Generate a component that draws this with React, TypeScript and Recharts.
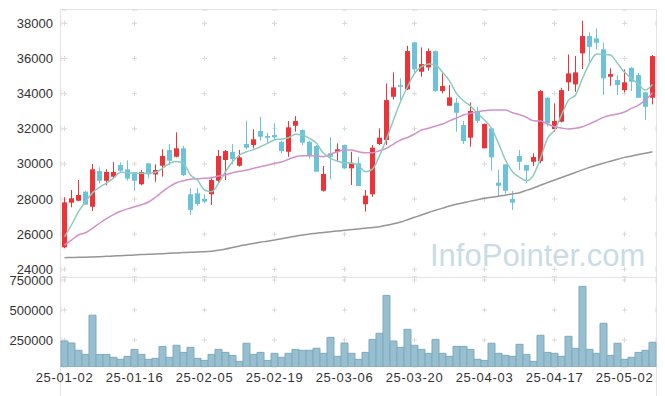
import React from "react";
import {
  ComposedChart, Bar, Line, XAxis, YAxis, CartesianGrid,
} from "recharts";

// trading days, 2025-01-02 .. 2025-05-12
const dates = [
  "25-01-02", "25-01-03", "25-01-06", "25-01-07", "25-01-08", "25-01-09", "25-01-10", "25-01-13", "25-01-14", "25-01-15",
  "25-01-16", "25-01-17", "25-01-20", "25-01-21", "25-01-22", "25-01-23", "25-01-24", "25-01-31", "25-02-03", "25-02-04",
  "25-02-05", "25-02-06", "25-02-07", "25-02-10", "25-02-11", "25-02-12", "25-02-13", "25-02-14", "25-02-17", "25-02-18",
  "25-02-19", "25-02-20", "25-02-21", "25-02-24", "25-02-25", "25-02-26", "25-02-27", "25-02-28", "25-03-04", "25-03-05",
  "25-03-06", "25-03-07", "25-03-10", "25-03-11", "25-03-12", "25-03-13", "25-03-14", "25-03-17", "25-03-18", "25-03-19",
  "25-03-20", "25-03-21", "25-03-24", "25-03-25", "25-03-26", "25-03-27", "25-03-28", "25-03-31", "25-04-01", "25-04-02",
  "25-04-03", "25-04-04", "25-04-07", "25-04-08", "25-04-09", "25-04-10", "25-04-11", "25-04-14", "25-04-15", "25-04-16",
  "25-04-17", "25-04-18", "25-04-21", "25-04-22", "25-04-23", "25-04-24", "25-04-25", "25-04-28", "25-04-29", "25-04-30",
  "25-05-02", "25-05-07", "25-05-08", "25-05-09", "25-05-12",
];

const opens = [
  25250, 27790, 27900, 28420, 27560, 29590, 29040, 29270, 29935, 29690,
  29520, 28840, 30030, 29400, 29895, 30790, 30405, 30885, 28270, 28325,
  28000, 28270, 29040, 30220, 30675, 29895, 31130, 31070, 31870, 31585,
  31640, 31260, 30690, 32170, 31925, 31260, 31015, 28470, 30600, 30675,
  31070, 29745, 30030, 27700, 28270, 31130, 31360, 33820, 34485, 34240,
  36915, 35245, 35495, 36420, 34150, 33310, 33480, 32210, 31490, 33010,
  30885, 32025, 28930, 29975, 28000, 30447, 29935, 30120, 30160, 33765,
  31985, 32400, 34640, 34525, 36290, 37275, 37145, 36520, 34960, 34770,
  34200, 35470, 35055, 34070, 33765,
];
const highs = [
  28100, 28510, 29080, 28470, 29990, 29800, 29690, 30090, 30090, 30200,
  29520, 29650, 30030, 29970, 30830, 31130, 31795, 31030, 28610, 28610,
  28270, 29270, 30790, 30790, 31130, 30790, 32455, 31965, 32685, 31775,
  32310, 31320, 32440, 32720, 31960, 31320, 31070, 29880, 31510, 31170,
  31100, 30690, 30405, 28510, 31070, 32025, 34580, 35210, 34870, 36720,
  36950, 36630, 36575, 36450, 35150, 34485, 33765, 32440, 33500, 33250,
  32300, 32025, 29650, 29975, 28455, 30790, 29950, 30600, 34200, 33800,
  33445, 34335, 36230, 36140, 38145, 37485, 37710, 36895, 35440, 35055,
  35380, 35500, 35185, 34100, 36195,
];
const lows = [
  25200, 27530, 27880, 27660, 27320, 28890, 28780, 29140, 29540, 29040,
  28460, 28780, 29180, 28980, 29270, 29935, 30370, 29310, 27090, 27600,
  27755, 27660, 28930, 29080, 29975, 29840, 30830, 30885, 31320, 31205,
  31360, 30600, 30405, 31830, 31070, 30275, 29555, 28420, 29120, 30120,
  29700, 28800, 28740, 27280, 28130, 31070, 31070, 33670, 33630, 34200,
  35110, 34960, 35300, 34100, 34015, 33300, 31830, 31130, 30975, 32310,
  30885, 29610, 28170, 28270, 27375, 29650, 28890, 29880, 30030, 32115,
  31830, 32360, 34145, 34105, 35400, 35810, 36520, 33920, 34445, 33920,
  34070, 34145, 33765, 32495, 33390,
];
const closes = [
  27810, 28040, 28230, 27680, 29690, 29040, 29540, 29540, 29610, 29160,
  29040, 29540, 29400, 29650, 30447, 30180, 30885, 29365, 27375, 27715,
  27850, 29080, 30447, 30730, 30275, 30370, 30920, 31400, 31545, 31490,
  31510, 30730, 32080, 32440, 31205, 30505, 29555, 29420, 30405, 30830,
  29745, 30065, 28740, 28190, 30920, 31490, 33630, 34355, 34390, 36420,
  35380, 35680, 36420, 34150, 34430, 33785, 32910, 31300, 33010, 32455,
  32270, 30370, 28755, 28470, 27790, 30120, 29610, 30390, 34145, 32310,
  32440, 34200, 35150, 35210, 37275, 36665, 36895, 34870, 35110, 34485,
  34640, 34675, 33765, 33250, 36135,
];

const ma5 = [
  25855, 26520, 27280, 27850, 28350, 28665, 28910, 29190, 29520, 29500,
  29460, 29460, 29460, 29520, 29745, 30030, 30140, 30030, 29365, 29080,
  28510, 28415, 28890, 29555, 30120, 30505, 30690, 30810, 30975, 31170,
  31360, 31415, 31490, 31680, 31625, 31455, 31170, 30600, 30315, 30160,
  30060, 30040, 29900, 29555, 29700, 30470, 31420, 32495, 33535, 34390,
  35150, 35530, 35680, 35625, 35220, 34730, 34015, 33595, 33290, 32875,
  32495, 32025, 31170, 30220, 29555, 29235, 29040, 29365, 30315, 31455,
  31925, 32780, 33630, 33920, 34870, 35720, 36250, 36230, 36195, 35720,
  35210, 34870, 34525, 34200, 34525,
];
const ma20 = [
  25380, 25665, 25950, 26080, 26330, 26620, 26880, 27110, 27300, 27440,
  27560, 27675, 27830, 28100, 28415, 28700, 28925, 29040, 29120, 29155,
  29180, 29210, 29310, 29385, 29500, 29575, 29650, 29745, 29840, 29920,
  30030, 30105, 30260, 30405, 30465, 30465, 30450, 30405, 30560, 30690,
  30790, 30790, 30690, 30635, 30640, 30750, 30885, 31130, 31360, 31505,
  31700, 31925, 32025, 32155, 32270, 32445, 32610, 32780, 32875, 32970,
  33025, 33065, 33065, 33065, 32910, 32795, 32650, 32455, 32440, 32270,
  32115, 32040, 31985, 32025, 32115, 32270, 32455, 32650, 32765, 32835,
  32950, 33160, 33350, 33630, 34050,
];
const ma60 = [
  24660, 24670, 24680, 24690, 24700, 24715, 24735, 24755, 24775, 24795,
  24815, 24835, 24850, 24870, 24890, 24910, 24930, 24950, 24965, 24985,
  25000, 25030, 25080, 25150, 25240, 25330, 25400, 25470, 25540, 25600,
  25665, 25740, 25810, 25880, 25950, 26010, 26050, 26100, 26140, 26180,
  26220, 26260, 26290, 26330, 26380, 26425, 26500, 26590, 26690, 26820,
  26960, 27090, 27230, 27360, 27480, 27600, 27700, 27790, 27880, 27960,
  28040, 28100, 28160, 28220, 28290, 28360, 28490, 28630, 28780, 28930,
  29080, 29220, 29370, 29510, 29660, 29800, 29920, 30040, 30150, 30260,
  30370, 30450, 30530, 30610, 30690,
];

const volumes = [
  242000, 225000, 164000, 130000, 457000, 130000, 130000, 106000, 89000, 114000,
  172000, 130000, 89000, 97000, 197000, 106000, 206000, 147000, 189000, 97000,
  80000, 130000, 172000, 147000, 122000, 72000, 223000, 130000, 147000, 80000,
  139000, 106000, 139000, 172000, 164000, 164000, 181000, 139000, 272000, 114000,
  225000, 139000, 89000, 147000, 255000, 306000, 622000, 242000, 189000, 339000,
  206000, 172000, 139000, 255000, 139000, 114000, 197000, 197000, 172000, 89000,
  80000, 223000, 139000, 122000, 114000, 214000, 130000, 72000, 289000, 147000,
  139000, 114000, 281000, 181000, 697000, 172000, 139000, 389000, 122000, 223000,
  89000, 106000, 147000, 164000, 231000,
];

const priceTicks = [24000, 26000, 28000, 30000, 32000, 34000, 36000, 38000];
const volumeTicks = [250000, 500000, 750000];

const UP = "#ee3338";
const DOWN = "#6cc3d9";
const GRID = "#d9d9d9";
const FONT = "'Liberation Sans', Arial, sans-serif";

const rows = dates.map((date, i) => ({
  date,
  open: opens[i],
  high: highs[i],
  low: lows[i],
  close: closes[i],
  ma5: ma5[i],
  ma20: ma20[i],
  ma60: ma60[i],
  volume: volumes[i],
}));

function Candle(props: any) {
  const { x, y, width, height, payload } = props;
  const { open, close, high, low } = payload;
  const cx = Math.round(x + width / 2) - 0.5;
  const k = high === low ? 0 : height / (high - low);
  const top = y + (high - Math.max(open, close)) * k;
  const bodyH = Math.max(Math.abs(open - close) * k, 1);
  const color = close >= open ? UP : DOWN;
  return (
    <g>
      <line x1={cx} x2={cx} y1={y} y2={y + height} stroke={color} strokeWidth={1} />
      <rect x={cx - 2.5} y={top} width={5} height={bodyH} fill={color} />
    </g>
  );
}

const tickStyle = { fontSize: 13, fill: "#333", fontFamily: FONT };

export default function App() {
  return (
    <div style={{ position: "absolute", left: 0, top: 0, width: 665, height: 396, background: "#fff" }}>
      <div
        style={{
          position: "absolute", left: 430, top: 240, fontSize: 31, lineHeight: "31px",
          fontFamily: FONT, color: "#c9dce6", whiteSpace: "nowrap",
        }}
      >
        InfoPointer.com
      </div>
      <div
        style={{
          position: "absolute", left: 60, top: 9, width: 597, height: 387,
          borderLeft: "1px solid #e4e4e4", borderTop: "1px solid #e4e4e4", borderRight: "1px solid #e4e4e4",
          boxSizing: "border-box",
        }}
      />
      <div style={{ position: "absolute", left: 60, top: 277, width: 596, height: 1, background: "#e4e4e4" }} />

      <div style={{ position: "absolute", left: 0, top: 0 }}>
        <ComposedChart width={665} height={277} data={rows} margin={{ top: 10, right: 9, bottom: 0, left: 0 }}>
          <CartesianGrid vertical={false} stroke={GRID} strokeDasharray="5 65" strokeDashoffset={-1} />
          <CartesianGrid horizontal={false} stroke={GRID} strokeDasharray="5 30.13" strokeDashoffset={24.28} />
          <XAxis dataKey="date" hide interval={9} />
          <YAxis
            type="number"
            domain={[23560, 38760]}
            allowDataOverflow
            ticks={priceTicks}
            interval={0}
            width={61}
            tickLine={false}
            axisLine={false}
            tickMargin={2}
            tick={tickStyle}
          />
          <Bar dataKey={(d: any) => [d.low, d.high]} shape={<Candle />} isAnimationActive={false} />
          <Line type="monotone" dataKey="ma60" stroke="#959595" strokeWidth={1.5} dot={false} isAnimationActive={false} />
          <Line type="monotone" dataKey="ma20" stroke="#d191cb" strokeWidth={1.5} dot={false} isAnimationActive={false} />
          <Line type="monotone" dataKey="ma5" stroke="#8ccabd" strokeWidth={1.5} dot={false} isAnimationActive={false} />
        </ComposedChart>
      </div>

      <div style={{ position: "absolute", left: 0, top: 267 }}>
        <ComposedChart
          width={665}
          height={129}
          data={rows}
          margin={{ top: 10, right: 9, bottom: 0, left: 0 }}
          barCategoryGap={0}
        >
          <CartesianGrid vertical={false} stroke={GRID} strokeDasharray="5 65" strokeDashoffset={-1} />
          <CartesianGrid horizontal={false} stroke={GRID} strokeDasharray="5 25" strokeDashoffset={29.5} />
          <XAxis
            dataKey="date"
            interval={9}
            height={29}
            tickLine={false}
            axisLine={false}
            tickSize={4}
            tickMargin={2}
            tick={{ ...tickStyle, letterSpacing: 0.7 }}
          />
          <YAxis
            type="number"
            domain={[25000, 775000]}
            allowDataOverflow
            ticks={volumeTicks}
            interval={0}
            width={61}
            tickLine={false}
            axisLine={false}
            tickMargin={2}
            tick={tickStyle}
          />
          <Bar dataKey="volume" fill="#98bfcf" stroke="#7eaabd" strokeWidth={1} isAnimationActive={false} />
        </ComposedChart>
      </div>
    </div>
  );
}
